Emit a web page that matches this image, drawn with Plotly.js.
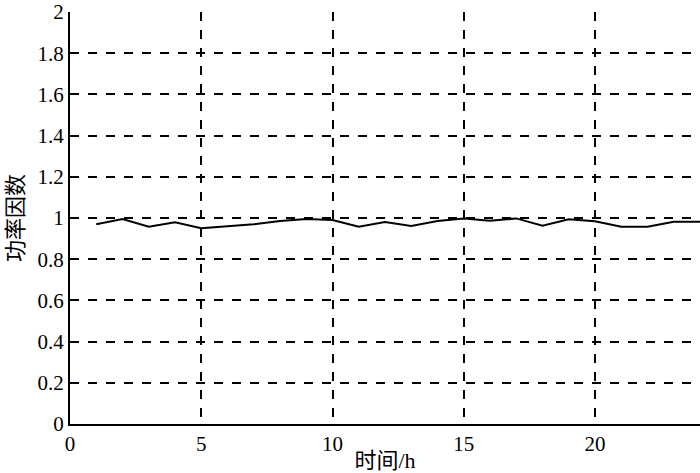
<!DOCTYPE html>
<html>
<head>
<meta charset="utf-8">
<script src="https://cdn.plot.ly/plotly-3.0.1.min.js"></script>
<style>html,body{margin:0;padding:0;background:#fff}#chart{width:700px;height:473px}</style>
</head>
<body>
<div id="chart"></div>
<script>
var hours = [1,2,3,4,5,6,7,8,9,10,11,12,13,14,15,16,17,18,19,20,21,22,23,24];
var powerFactor = [0.97,0.995,0.958,0.979,0.95,0.96,0.97,0.985,0.995,0.99,0.958,0.98,0.961,0.985,0.998,0.987,0.998,0.963,0.994,0.984,0.958,0.958,0.982,0.982];
var xTicks = [0,5,10,15,20];
var yTicks = [0,0.2,0.4,0.6,0.8,1,1.2,1.4,1.6,1.8,2];
var yTickText = ['0','0.2','0.4','0.6','0.8','1','1.2','1.4','1.6','1.8','2'];
var xTitle = '时间/h';
var yTitle = '功率因数';

var font = '"Liberation Serif", "Times New Roman", "Noto Sans CJK SC", serif';

var trace = {
  x: hours, y: powerFactor, type: 'scatter', mode: 'lines',
  line: {color: '#000', width: 2}, hoverinfo: 'none'
};

var layout = {
  width: 700, height: 473,
  margin: {l: 70, r: 0, t: 12, b: 49},
  paper_bgcolor: '#fff', plot_bgcolor: '#fff',
  showlegend: false,
  font: {family: font, size: 21, color: '#000'},
  xaxis: {
    range: [0, 24], tickvals: xTicks, ticktext: xTicks.map(String),
    showline: true, linecolor: '#000', linewidth: 2,
    showgrid: true, gridcolor: '#000', gridwidth: 2, griddash: 'dash',
    zeroline: false, ticks: '', ticklen: 0,
    tickfont: {family: font, size: 21, color: '#000'},
    title: {text: xTitle, font: {family: font, size: 22, color: '#000'}, standoff: 0}
  },
  yaxis: {
    range: [0, 2], tickvals: yTicks, ticktext: yTickText,
    showline: true, linecolor: '#000', linewidth: 2,
    showgrid: true, gridcolor: '#000', gridwidth: 2, griddash: 'dash',
    zeroline: false, ticks: '', ticklen: 0,
    tickfont: {family: font, size: 21, color: '#000'},
    title: {text: yTitle, font: {family: font, size: 22, color: '#000'}, standoff: 8}
  }
};

Plotly.newPlot('chart', [trace], layout, {displayModeBar: false, staticPlot: true});
</script>
</body>
</html>
